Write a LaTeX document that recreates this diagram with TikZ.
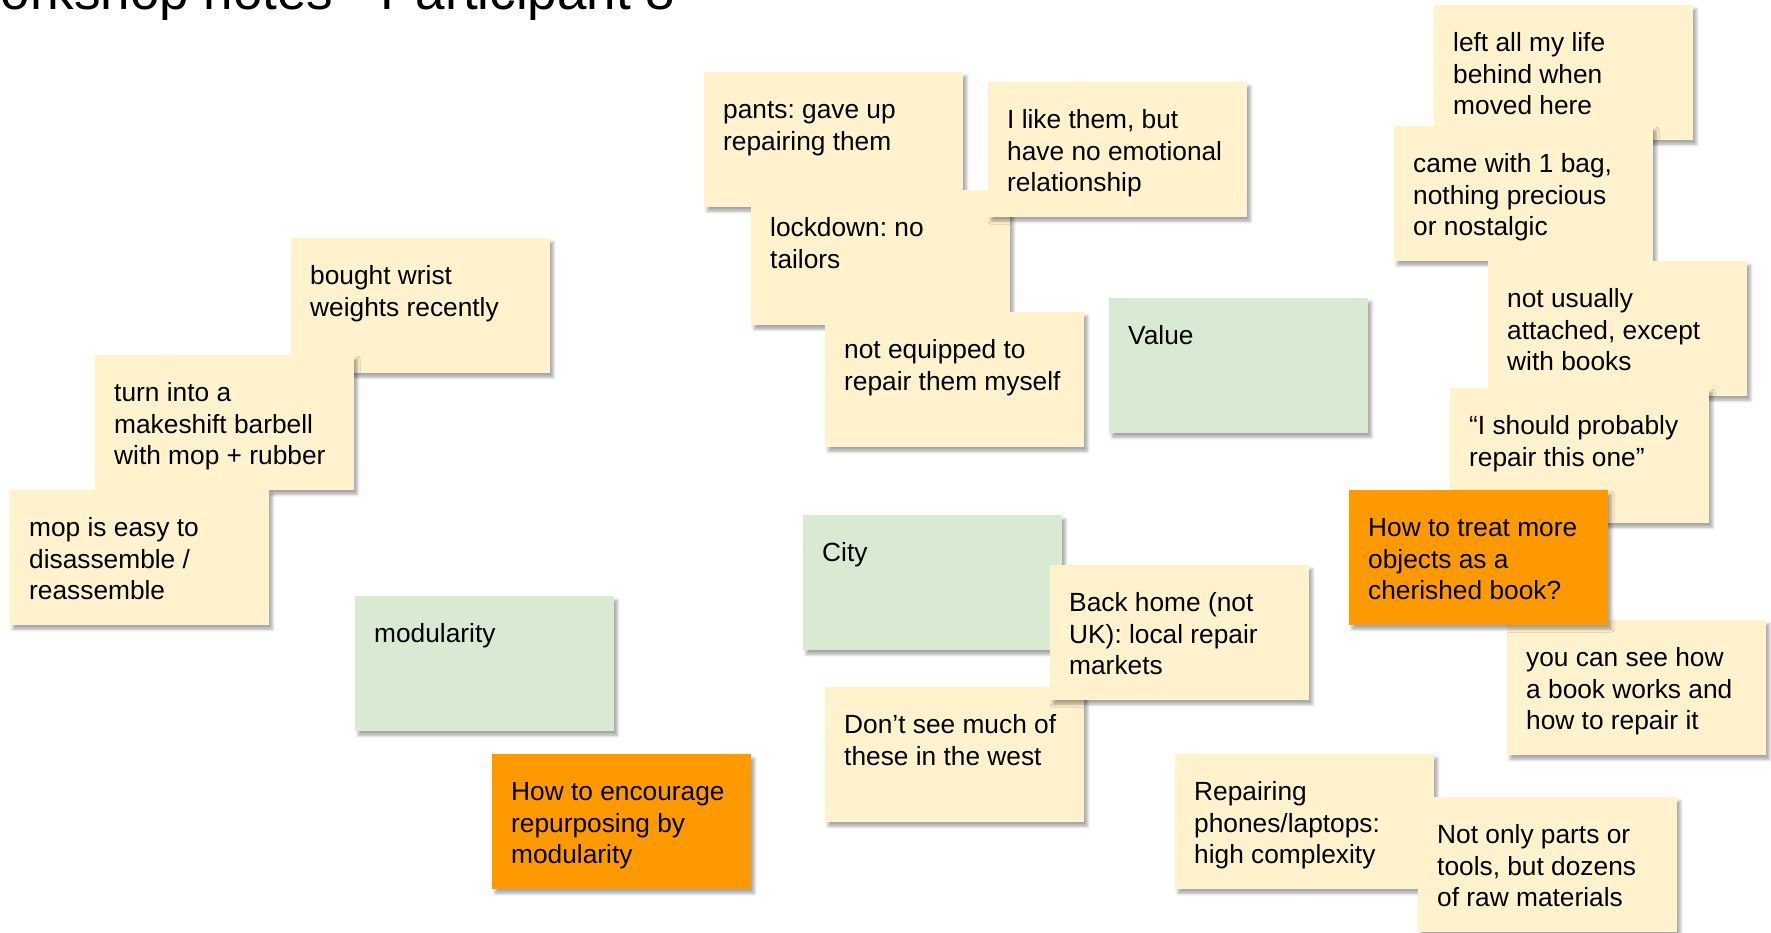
\documentclass[tikz,border=0pt]{standalone}
\usepackage{fontspec}
\setmainfont{Liberation Sans}
\usetikzlibrary{shadows.blur}

\definecolor{noteyellow}{HTML}{FFF2CC}
\definecolor{notegreen}{HTML}{D9EAD3}
\definecolor{noteorange}{HTML}{FF9900}

\frenchspacing
\newcommand{\notebody}[1]{\parbox[t][87pt][t]{221pt}{\raggedright\strut #1}}

\begin{document}
\begin{tikzpicture}[x=1pt, y=-1pt,
  card/.style={rectangle, anchor=north west, minimum width=259pt, minimum height=135pt,
    inner xsep=19pt, inner ysep=24pt, font=\fontsize{26.3pt}{31.7pt}\selectfont,
    blur shadow={shadow xshift=3pt, shadow yshift=-4pt, shadow blur radius=3pt, shadow opacity=35}},
  note/.style={card, fill=noteyellow},
  topic/.style={card, fill=notegreen},
  question/.style={card, fill=noteorange}]
\useasboundingbox (0,0) rectangle (1771,933);
\node[anchor=base west, font=\fontsize{53pt}{60pt}\selectfont] (title) at (-52,10) {Workshop notes - Participant 8};

\node[note] (pants) at (704,72) {\notebody{pants: gave up\\repairing them}};
\node[note] (lockdown) at (751,190) {\notebody{lockdown: no\\tailors}};
\node[note] (likethem) at (988,82) {\notebody{I like them, but\\have no emotional\\relationship}};
\node[note] (equipped) at (825,312) {\notebody{not equipped to\\repair them myself}};
\node[topic] (value) at (1109,298) {\notebody{Value}};

\node[note] (wrist) at (291,238) {\notebody{bought wrist\\weights recently}};
\node[note] (barbell) at (95,355) {\notebody{turn into a\\makeshift barbell\\with mop + rubber}};
\node[note] (mop) at (10,490) {\notebody{mop is easy to\\disassemble /\\reassemble}};
\node[topic] (modularity) at (355,596) {\notebody{modularity}};
\node[question] (repurpose) at (492,754) {\notebody{How to encourage\\repurposing by\\modularity}};

\node[topic] (city) at (803,515) {\notebody{City}};
\node[note] (west) at (825,687) {\notebody{Don’t see much of\\these in the west}};
\node[note] (backhome) at (1050,565) {\notebody{Back home (not\\UK): local repair\\markets}};
\node[note] (phones) at (1175,754) {\notebody{Repairing\\phones/laptops:\\high complexity}};
\node[note] (materials) at (1418,797) {\notebody{Not only parts or\\tools, but dozens\\of raw materials}};

\node[note] (leftlife) at (1434,5) {\notebody{left all my life\\behind when\\moved here}};
\node[note] (onebag) at (1394,126) {\notebody{came with 1 bag,\\nothing precious\\or nostalgic}};
\node[note] (books) at (1488,261) {\notebody{not usually\\attached, except\\with books}};
\node[note] (shouldrepair) at (1450,388) {\notebody{“I should probably\\repair this one”}};
\node[note] (seehow) at (1507,620) {\notebody{you can see how\\a book works and\\how to repair it}};
\node[question] (cherished) at (1349,490) {\notebody{How to treat more\\objects as a\\cherished book?}};
\end{tikzpicture}
\end{document}
